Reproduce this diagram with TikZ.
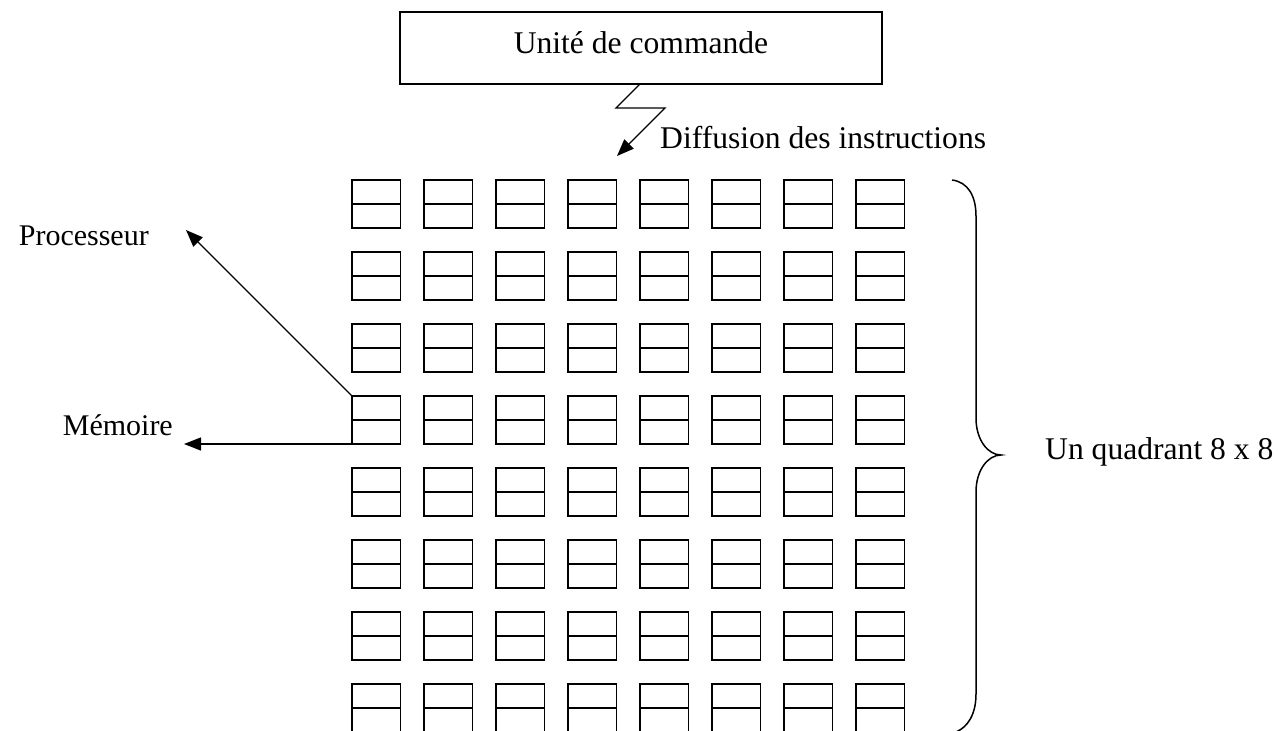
\documentclass[tikz,border=0pt]{standalone}
\usepackage{fontspec}
\setmainfont{Liberation Serif}
\usetikzlibrary{arrows.meta}
\begin{document}
\begin{tikzpicture}[x=1pt,y=-1pt,
  lbl/.style={inner sep=0pt, font=\fontsize{31.6}{38}\selectfont},
  sidelbl/.style={inner sep=0pt, font=\fontsize{30}{36}\selectfont},
  cell/.style={draw, line width=1.6pt, minimum width=48.5pt, minimum height=48pt, inner sep=0pt, outer sep=0pt},
  unitbox/.style={draw, line width=1.5pt, minimum width=482pt, minimum height=72pt, inner sep=0pt, outer sep=0pt},
  pointer/.style={line width=1.4pt, -{Triangle[length=17pt,width=13pt]}},
  bracestroke/.style={line width=1.5pt},
]
\useasboundingbox (0,0) rectangle (1278,731);
\clip (0,0) rectangle (1278,731);

% control unit
\node[unitbox] (ctrl) at (641,48) {};
\node[lbl, anchor=base] (ctrltxt) at (641,53) {Unité de commande};

% broadcast of instructions (zigzag arrow)
\coordinate (bendA) at (616,108);
\coordinate (bendB) at (665,108);
\coordinate (difftip) at (617,156);
\draw[pointer] ([xshift=-1pt]ctrl.south) -- (bendA) -- (bendB) -- (difftip);
\node[lbl, anchor=base west] (difftxt) at (660,148) {Diffusion des instructions};

% 8 x 8 grid of processor / memory cells
\foreach \i in {1,...,8} {
  \foreach \j in {1,...,8} {
    \node[cell] (c-\i-\j) at ({376.25+72*(\i-1)}, {204+72*(\j-1)}) {};
    \draw[line width=1.6pt] (c-\i-\j.west) -- (c-\i-\j.east);
  }
}

% labels of one cell
\node[sidelbl, anchor=base east] (proctxt) at (149,245) {Processeur};
\coordinate (proctip) at (186,230);
\draw[pointer] (c-1-4.north west) -- (proctip);

\node[sidelbl, anchor=base east] (memtxt) at (173,435) {Mémoire};
\coordinate (memtip) at (184,444);
\draw[pointer] (c-1-4.south west) -- (memtip);

% brace around the quadrant
\draw[bracestroke] (952,180) .. controls (968,182) and (976,196) .. (976,216)
  -- (976,418) .. controls (976,440) and (988,455) .. (1001,455)
  .. controls (988,455) and (976,470) .. (976,492)
  -- (976,694) .. controls (976,714) and (968,727) .. (956,732);
\node[lbl, anchor=base west] (quadtxt) at (1045,459) {Un quadrant 8 x 8};
\end{tikzpicture}
\end{document}
